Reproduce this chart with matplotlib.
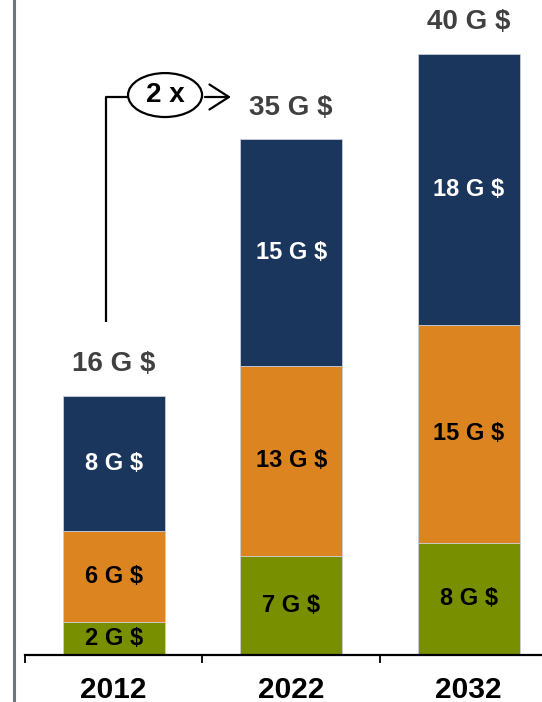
import matplotlib
matplotlib.use("Agg")
import matplotlib.pyplot as plt
from matplotlib.patches import Ellipse, FancyArrowPatch
from matplotlib.lines import Line2D

plt.rcParams['font.family'] = ['Liberation Sans', 'DejaVu Sans']

years = ["2012", "2022", "2032"]
# segment heights (G $)
green_vals = [2.2, 6.6, 7.5]
orange_vals = [6.1, 12.7, 14.5]
navy_vals = [9.0, 15.1, 18.1]
# printed labels
green_labels = ["2 G $", "7 G $", "8 G $"]
orange_labels = ["6 G $", "13 G $", "15 G $"]
navy_labels = ["8 G $", "15 G $", "18 G $"]
total_labels = ["16 G $", "35 G $", "40 G $"]
growth_label = "2 x"

c_green = "#788F00"
c_orange = "#DC8520"
c_navy = "#1B365D"

W, H = 542, 702
fig = plt.figure(figsize=(W / 100, H / 100), dpi=100)
ax = fig.add_axes([25 / W, (H - 655) / H, 532.5 / W, 655 / H])
ax.set_xlim(-0.5, 2.5)
ax.set_ylim(0, 655 / 15)

x = list(range(len(years)))
bw = 0.575
edge = dict(edgecolor="#c9ced6", linewidth=0.6)
ax.bar(x, green_vals, width=bw, color=c_green, **edge, zorder=2)
bottoms2 = green_vals
ax.bar(x, orange_vals, width=bw, bottom=bottoms2, color=c_orange, **edge, zorder=2)
bottoms3 = [g + o for g, o in zip(green_vals, orange_vals)]
ax.bar(x, navy_vals, width=bw, bottom=bottoms3, color=c_navy, **edge, zorder=2)
tops = [b + n for b, n in zip(bottoms3, navy_vals)]

seg_fs = 17
for i in x:
    ax.text(i, green_vals[i] / 2, green_labels[i], ha="center", va="center",
            fontsize=seg_fs, fontweight="bold", color="black", zorder=3)
    ax.text(i, bottoms2[i] + orange_vals[i] / 2, orange_labels[i], ha="center", va="center",
            fontsize=seg_fs, fontweight="bold", color="black", zorder=3)
    ax.text(i, bottoms3[i] + navy_vals[i] / 2, navy_labels[i], ha="center", va="center",
            fontsize=seg_fs, fontweight="bold", color="white", zorder=3)
    ax.text(i, tops[i] + 2.07, total_labels[i], ha="center", va="center",
            fontsize=20, fontweight="bold", color="#404040", zorder=3)
    ax.text(i, -2.3, years[i], ha="center", va="center",
            fontsize=21.5, fontweight="bold", color="black", clip_on=False)

# axes styling
for s in ["top", "right", "left"]:
    ax.spines[s].set_visible(False)
ax.spines["bottom"].set_linewidth(1.6)
ax.spines["bottom"].set_color("black")
ax.set_yticks([])
ax.set_xticks([-0.5, 0.5, 1.5, 2.5])
ax.set_xticklabels([])
ax.tick_params(axis="x", direction="out", length=6, width=1.3, color="black")

# growth annotation
yline = 37.2
xv = -0.044
ax.plot([xv, xv, 0.081], [22.2, yline, yline], color="black", lw=1.6,
        solid_capstyle="butt", zorder=3)
ax.add_patch(Ellipse((0.289, 37.33), 0.417, 2.93, fill=False, edgecolor="black", lw=1.6, zorder=3))
ax.text(0.289, 37.33, growth_label, ha="center", va="center", fontsize=20,
        fontweight="bold", color="black", zorder=4)
ax.add_patch(FancyArrowPatch((0.498, yline), (0.676, yline),
                             arrowstyle="->,head_length=0.7,head_width=0.45",
                             mutation_scale=20, color="black", lw=1.6, zorder=3))

# left border line
fig.add_artist(Line2D([14 / W, 14 / W], [0, 1], color="#6E7680", lw=2.2,
                      transform=fig.transFigure))

fig.savefig("out.png", dpi=100)
